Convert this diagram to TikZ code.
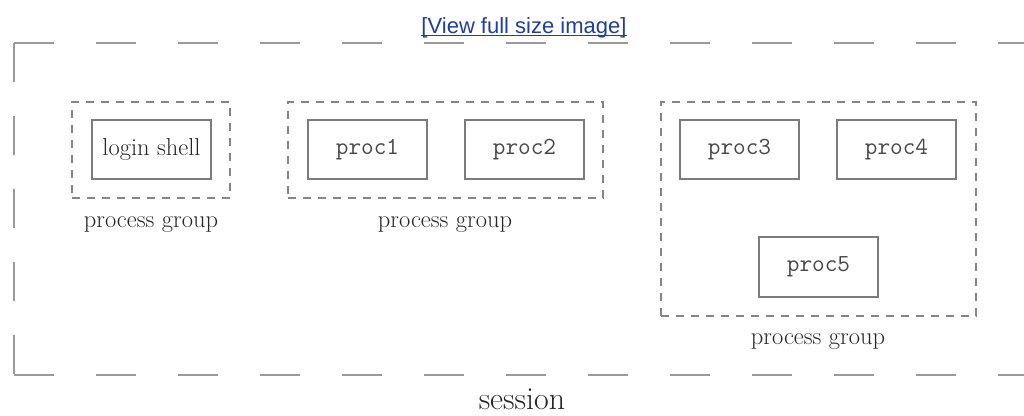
\documentclass[tikz,border=0pt]{standalone}
\usepackage{fontspec}
\newfontfamily\linkfont{Liberation Sans}
\definecolor{boxgray}{HTML}{7C7C7C}
\definecolor{grpgray}{HTML}{858585}
\definecolor{sessgray}{HTML}{9A9A9A}
\definecolor{txt}{HTML}{262626}
\definecolor{linkblue}{HTML}{1F3F9F}
\begin{document}
\begin{tikzpicture}[x=1pt,y=-1pt,
  proc/.style={draw=boxgray, line width=2pt, minimum width=119pt, minimum height=59pt,
    inner sep=0pt, text=txt!85, font=\fontsize{24.5}{28}\ttfamily},
  pgroup/.style={draw=grpgray, line width=1.5pt, dash pattern=on 8pt off 7pt, inner sep=0pt},
  lbl/.style={text=txt, font=\fontsize{24.5}{28}\selectfont, inner sep=0pt, anchor=base},
  sess/.style={draw=sessgray, line width=2.6pt}]
\useasboundingbox (0,0) rectangle (1024,415);
\clip (0,0) rectangle (1024,415);

% link text
\node[anchor=base, inner sep=0pt, text=linkblue, font=\linkfont\fontsize{22}{26}\selectfont] (link) at (524,33) {[View full size image]};
\draw[linkblue, line width=1.1pt] ([yshift=-2.5pt]link.base west) -- ([yshift=-2.5pt]link.base east);

% session frame
\coordinate (stl) at (14,43);
\coordinate (sbl) at (14,375);
\coordinate (str) at (1060,43);
\coordinate (sbr) at (1060,375);
\draw[sess, dash pattern=on 39pt off 34pt] (stl) -- (sbl);
\draw[sess, dash pattern=on 40pt off 42pt] (stl) -- (str);
\draw[sess, dash pattern=on 40pt off 42pt] (sbl) -- (sbr);

% process groups
\node[pgroup, minimum width=158pt, minimum height=96pt] (g1) at (151,150) {};
\node[pgroup, minimum width=315pt, minimum height=96pt] (g2) at (445.5,150) {};
\node[pgroup, minimum width=315pt, minimum height=214pt] (g3) at (818.5,209) {};

% processes
\node[proc, text=txt, font=\fontsize{24.5}{28}\selectfont] (login) at (151.5,149.5) {login shell};
\node[proc] (p1) at (367.5,149.5) {proc1};
\node[proc] (p2) at (524.5,149.5) {proc2};
\node[proc] (p3) at (739.5,149.5) {proc3};
\node[proc] (p4) at (896.5,149.5) {proc4};
\node[proc, minimum height=60pt] (p5) at (818.5,267) {proc5};

% labels
\node[lbl] (l1) at (151,227) {process group};
\node[lbl] (l2) at (445,227) {process group};
\node[lbl] (l3) at (818,344) {process group};
\node[lbl, font=\fontsize{32}{36}\selectfont] (sesslbl) at (522,409) {session};
\end{tikzpicture}
\end{document}
